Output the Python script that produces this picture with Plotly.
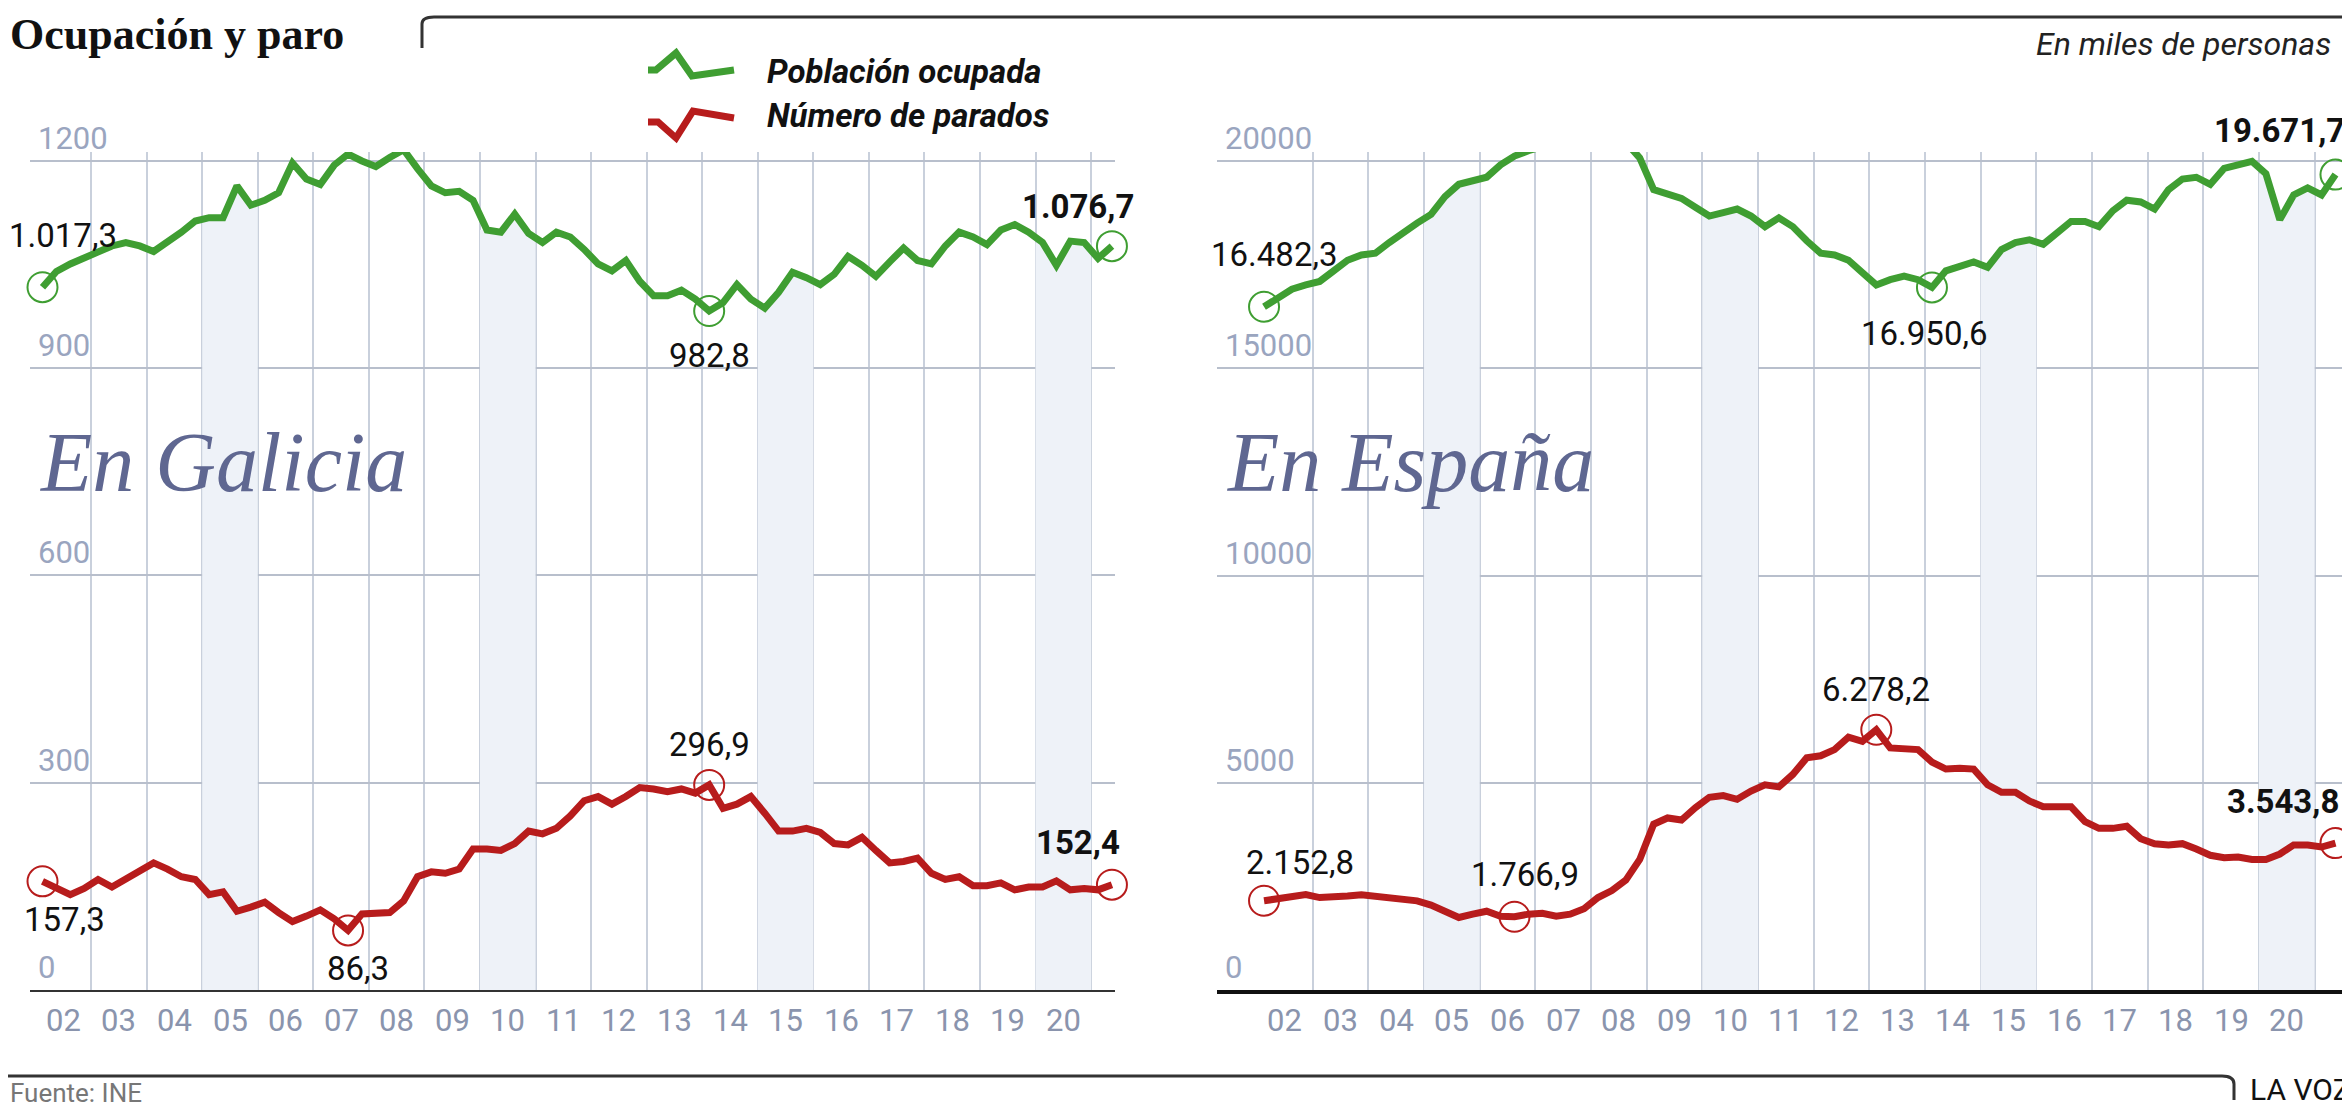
import plotly.graph_objects as go

# quarterly series, 2002 T1 .. 2021 T2
years = list(range(2002, 2022))
year_labels = ['02', '03', '04', '05', '06', '07', '08', '09', '10', '11',
               '12', '13', '14', '15', '16', '17', '18', '19', '20']
shaded_years = [2005, 2010, 2015, 2020]

gal_ocupados = [1017.3, 1040, 1051, 1059, 1067, 1077, 1082, 1077, 1069, 1082,
                1097, 1113, 1118, 1118, 1164, 1136, 1143, 1154, 1197, 1174,
                1166, 1194, 1210, 1200, 1192, 1205, 1216.4, 1189, 1164, 1154,
                1156, 1143, 1100, 1097, 1123, 1095, 1082, 1097, 1090, 1072,
                1051, 1041, 1056, 1026, 1005, 1005, 1013, 1000, 982.8, 995,
                1021, 1000, 987, 1010, 1039, 1031, 1021, 1036, 1062, 1049,
                1033, 1054, 1074, 1056, 1051, 1077, 1097, 1090, 1079, 1100,
                1108, 1097, 1082, 1049, 1084, 1082, 1059, 1076.7]
gal_parados = [157.3, 147, 138, 147, 160, 149, 160, 171, 184, 175,
               164, 160, 138, 142, 114, 120, 127, 112, 99, 107,
               116, 103, 86.3, 110, 112, 112, 129, 164, 171, 169,
               175, 204, 204, 202, 212, 230, 226, 234, 252, 274,
               280, 269, 280, 293, 291, 287, 291, 285, 296.9, 263,
               269, 280, 256, 230, 230, 234, 228, 212, 210, 221,
               202, 184, 186, 191, 169, 160, 164, 151, 151, 155,
               145, 149, 149, 158, 145, 147, 145, 152.4]
esp_ocupados = [16482.3, 16711, 16907, 17010, 17095, 17350, 17606, 17734, 17776, 18032,
                18288, 18500, 18713, 19140, 19438, 19523, 19608, 19906, 20119, 20247,
                20332, 20450, 20580.9, 20500, 20480, 20520, 20450, 20077, 19310, 19182,
                19097, 18884, 18671, 18756, 18841, 18671, 18416, 18628, 18416, 18075,
                17776, 17734, 17606, 17308, 17010, 17137, 17222, 17137, 16950.6, 17350,
                17478, 17563, 17436, 17862, 18032, 18100, 17990, 18288, 18543, 18543,
                18416, 18799, 19054, 19012, 18841, 19310, 19565, 19608, 19438, 19821,
                19906, 19991, 19693, 18586, 19182, 19352, 19182, 19671.7]
esp_parados = [2152.8, 2200, 2230, 2300, 2230, 2270, 2270, 2300, 2270, 2230,
               2200, 2150, 2050, 1900, 1750, 1830, 1900, 1780, 1766.9, 1830,
               1850, 1780, 1830, 1960, 2230, 2400, 2650, 3150, 4000, 4150,
               4100, 4400, 4650, 4690, 4600, 4800, 4950, 4900, 5200, 5600,
               5650, 5800, 6100, 6000, 6278.2, 5840, 5800, 5800, 5500, 5330,
               5350, 5330, 4950, 4770, 4770, 4560, 4420, 4420, 4420, 4060,
               3900, 3900, 3950, 3650, 3530, 3500, 3530, 3400, 3250, 3190,
               3210, 3150, 3150, 3280, 3500, 3500, 3450, 3543.8]

quarters = [2002 + (i + 0.5) / 4 for i in range(len(gal_ocupados))]

# highlighted points: (index, label, bold, ax, ay)
gal_occ_marks = [(0, '1.017,3', False, 20, -52), (26, '1.216,4', False, 8, 40),
                 (48, '982,8', False, 0, 44), (77, '1.076,7', True, -34, -40)]
gal_par_marks = [(0, '157,3', False, 22, 38), (22, '86,3', False, 10, 38),
                 (48, '296,9', False, 0, -40), (77, '152,4', True, -34, -42)]
esp_occ_marks = [(0, '16.482,3', False, 10, -52), (22, '20.580,9', False, 80, -24),
                 (48, '16.950,6', False, -8, 46), (77, '19.671,7', True, -56, -44)]
esp_par_marks = [(0, '2.152,8', False, 36, -38), (18, '1.766,9', False, 10, -42),
                 (44, '6.278,2', False, 0, -40), (77, '3.543,8', True, -52, -42)]

W, H = 2350, 1103
GREEN = '#3f9e32'
RED = '#b71c1c'
SHADE = '#eef2f8'
GRID = '#c9d0dc'
TICK = '#9aa5bf'
NARROW = 'Liberation Sans Narrow, Roboto, sans-serif'


def px(x):
    return x / W


def py(y):
    return 1 - y / H


fig = go.Figure()

panels = [
    dict(xa='x', ya='y', occ=gal_ocupados, par=gal_parados, yr=[0, 1213], xr=[2001.9, 2021.43],
         ticks=[0, 300, 600, 900, 1200], occm=gal_occ_marks, parm=gal_par_marks,
         dom=[px(22), px(1107)], name='En Galicia', axis_w=2, axis_c='#333'),
    dict(xa='x2', ya='y2', occ=esp_ocupados, par=esp_parados, yr=[0, 20217], xr=[2001.28, 2021.6],
         ticks=[0, 5000, 10000, 15000, 20000], occm=esp_occ_marks, parm=esp_par_marks,
         dom=[px(1209), px(2340)], name='En España', axis_w=4, axis_c='#111'),
]

annotations = []
for p in panels:
    # shaded years under the employment line
    for yr in shaded_years:
        xs = [q for q in quarters if yr <= q < yr + 1]
        ys = [v for q, v in zip(quarters, p['occ']) if yr <= q < yr + 1]
        fig.add_trace(go.Scatter(x=[yr] + xs + [yr + 1], y=[ys[0]] + ys + [ys[-1]],
                                 xaxis=p['xa'], yaxis=p['ya'], mode='lines',
                                 line=dict(width=0), fill='tozeroy', fillcolor=SHADE,
                                 hoverinfo='skip', showlegend=False))
    for series, color, marks in [(p['occ'], GREEN, p['occm']), (p['par'], RED, p['parm'])]:
        fig.add_trace(go.Scatter(x=quarters, y=series, xaxis=p['xa'], yaxis=p['ya'],
                                 mode='lines', line=dict(color=color, width=7),
                                 cliponaxis=False, showlegend=False))
        idx = [m[0] for m in marks]
        fig.add_trace(go.Scatter(x=[quarters[i] for i in idx], y=[series[i] for i in idx],
                                 xaxis=p['xa'], yaxis=p['ya'], mode='markers',
                                 marker=dict(symbol='circle-open', size=30,
                                             color=color, line=dict(width=2)),
                                 cliponaxis=False, showlegend=False))
        for i, label, bold, ax, ay in marks:
            annotations.append(dict(
                x=quarters[i], y=series[i], xref=p['xa'], yref=p['ya'],
                text='<b>%s</b>' % label if bold else label, showarrow=True,
                arrowcolor='rgba(0,0,0,0)', ax=ax, ay=ay,
                font=dict(family=NARROW, size=33, color='#111')))
    for t in p['ticks']:
        annotations.append(dict(x=p['xr'][0], y=t, xref=p['xa'], yref=p['ya'],
                                text=str(t), showarrow=False, xanchor='left',
                                yanchor='bottom', xshift=6, yshift=2,
                                font=dict(family=NARROW, size=31, color=TICK)))
    for yr, lab in zip(years, year_labels):
        annotations.append(dict(x=yr + 0.5, y=0, xref=p['xa'], yref=p['ya'],
                                text=lab, showarrow=False, yanchor='top', yshift=-10,
                                font=dict(family=NARROW, size=31, color='#8a94ad')))
    annotations.append(dict(x=p['xr'][0], y=p['yr'][1] * 0.63, xref=p['xa'], yref=p['ya'],
                            text=p['name'], showarrow=False, xanchor='left',
                            yanchor='middle', xshift=8,
                            font=dict(family='Liberation Serif, serif', size=84,
                                      color='#5f6791', style='italic')))

layout_axes = {}
for n, p in zip(['', '2'], panels):
    layout_axes['xaxis' + n] = dict(domain=p['dom'], range=p['xr'], tickvals=years[1:],
                                    showticklabels=False, showgrid=True, gridcolor=GRID,
                                    gridwidth=2, zeroline=False, showline=True,
                                    linecolor=p['axis_c'], linewidth=p['axis_w'],
                                    anchor='y' + n)
    layout_axes['yaxis' + n] = dict(domain=[py(982), py(144)], range=p['yr'],
                                    tickvals=p['ticks'][1:], showticklabels=False,
                                    showgrid=True, gridcolor='#b8bfcc', gridwidth=2,
                                    zeroline=False, showline=False, anchor='x' + n)

paper_notes = [
    (0, 26, '<b>Ocupación y paro</b>', 'left',
     dict(family='Liberation Serif, serif', size=44, color='#111')),
    (px(2325), 36, 'En miles de personas', 'right',
     dict(family=NARROW, size=32, color='#222', style='italic')),
    (px(757), 63, '<b>Población ocupada</b>', 'left',
     dict(family=NARROW, size=33, color='#111', style='italic')),
    (px(757), 108, '<b>Número de parados</b>', 'left',
     dict(family=NARROW, size=33, color='#111', style='italic')),
    (0, 1085, 'Fuente: INE', 'left', dict(family=NARROW, size=26, color='#777')),
    (px(2345), 1081, 'LA VOZ', 'right', dict(family=NARROW, size=30, color='#111')),
]
for x, y, text, xanchor, font in paper_notes:
    annotations.append(dict(x=x, y=py(y), xref='paper', yref='paper', text=text,
                            showarrow=False, xanchor=xanchor, yanchor='middle',
                            font=font))

shapes = [
    # top frame with rounded corner
    dict(type='path', xref='paper', yref='paper', line=dict(color='#333', width=3),
         path='M %f %f L %f %f Q %f %f %f %f L %f %f' % (
             px(414), py(40), px(414), py(16), px(414), py(9), px(426), py(9), px(2350), py(9))),
    # bottom frame
    dict(type='path', xref='paper', yref='paper', line=dict(color='#333', width=3),
         path='M %f %f L %f %f Q %f %f %f %f L %f %f' % (
             0, py(1068), px(2214), py(1068), px(2226), py(1068), px(2226), py(1076),
             px(2226), py(1092))),
    # legend zigzags
    dict(type='path', xref='paper', yref='paper', line=dict(color=GREEN, width=7),
         path='M %f %f L %f %f L %f %f L %f %f L %f %f' % (
             px(640), py(62), px(648), py(62), px(668), py(45), px(684), py(68), px(726), py(62))),
    dict(type='path', xref='paper', yref='paper', line=dict(color=RED, width=7),
         path='M %f %f L %f %f L %f %f L %f %f L %f %f' % (
             px(640), py(114), px(650), py(114), px(668), py(130), px(685), py(103), px(726), py(110))),
]

fig.update_layout(width=W, height=H, margin=dict(l=0, r=0, t=0, b=0),
                  plot_bgcolor='white', paper_bgcolor='white',
                  annotations=annotations, shapes=shapes, **layout_axes)

fig.write_html("out.html")
